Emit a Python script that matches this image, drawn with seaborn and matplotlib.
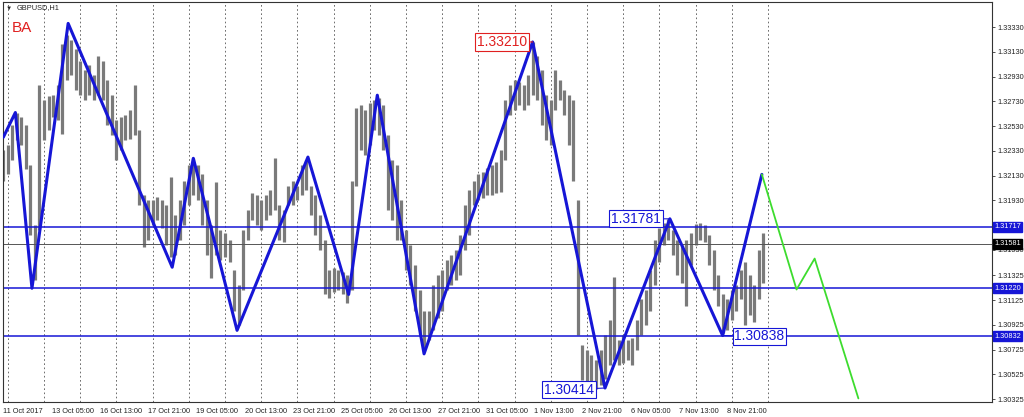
import matplotlib
matplotlib.use("Agg")
import matplotlib.pyplot as plt
import matplotlib.transforms as mtransforms
import pandas as pd
import seaborn as sns

# GBPUSD H1 bars, read every 3rd hour (bar index = k * 3)
bar_step = 3
highs = [1.3234, 1.3238, 1.3254, 1.3264, 1.3260, 1.3254, 1.3222, 1.3173, 1.3286, 1.3274,
         1.3277, 1.3278, 1.3286, 1.3319, 1.3327, 1.3323, 1.3315, 1.3306, 1.3298, 1.3302,
         1.3294, 1.3310, 1.3306, 1.3290, 1.3278, 1.3258, 1.3260, 1.3262, 1.3266, 1.3286,
         1.3250, 1.3197, 1.3193, 1.3193, 1.3196, 1.3193, 1.3189, 1.3212, 1.3181, 1.3193,
         1.3209, 1.3222, 1.3227, 1.3222, 1.3214, 1.3193, 1.3173, 1.3208, 1.3169, 1.3167,
         1.3161, 1.3137, 1.3125, 1.3169, 1.3185, 1.3199, 1.3197, 1.3193, 1.3197, 1.3201,
         1.3227, 1.3189, 1.3185, 1.3205, 1.3209, 1.3205, 1.3222, 1.3226, 1.3205, 1.3197,
         1.3181, 1.3161, 1.3137, 1.3138, 1.3137, 1.3135, 1.3133, 1.3209, 1.3268, 1.3270,
         1.3266, 1.3272, 1.3274, 1.3276, 1.3270, 1.3246, 1.3226, 1.3222, 1.3193, 1.3169,
         1.3157, 1.3141, 1.3121, 1.3104, 1.3104, 1.3125, 1.3133, 1.3137, 1.3145, 1.3149,
         1.3153, 1.3165, 1.3189, 1.3201, 1.3209, 1.3214, 1.3216, 1.3219, 1.3222, 1.3224,
         1.3234, 1.3274, 1.3286, 1.3290, 1.3289, 1.3286, 1.3294, 1.3321, 1.3310, 1.3298,
         1.3278, 1.3274, 1.3298, 1.3290, 1.3282, 1.3278, 1.3274, 1.3193, 1.3076, 1.3072,
         1.3068, 1.3064, 1.3072, 1.3084, 1.3096, 1.3131, 1.3080, 1.3084, 1.3080, 1.3082,
         1.3096, 1.3113, 1.3121, 1.3137, 1.3161, 1.3171, 1.3175, 1.3178, 1.3169, 1.3161,
         1.3157, 1.3161, 1.3167, 1.3174, 1.3175, 1.3173, 1.3165, 1.3153, 1.3133, 1.3117,
         1.3113, 1.3121, 1.3125, 1.3137, 1.3143, 1.3133, 1.3125, 1.3153, 1.3167]
lows = [1.3209, 1.3214, 1.3226, 1.3242, 1.3238, 1.3218, 1.3165, 1.3129, 1.3169, 1.3242,
        1.3250, 1.3260, 1.3258, 1.3247, 1.3290, 1.3294, 1.3282, 1.3278, 1.3274, 1.3278,
        1.3274, 1.3278, 1.3274, 1.3254, 1.3246, 1.3226, 1.3234, 1.3242, 1.3243, 1.3246,
        1.3189, 1.3155, 1.3161, 1.3173, 1.3177, 1.3171, 1.3157, 1.3147, 1.3149, 1.3161,
        1.3173, 1.3189, 1.3197, 1.3193, 1.3173, 1.3149, 1.3130, 1.3149, 1.3145, 1.3147,
        1.3143, 1.3104, 1.3092, 1.3121, 1.3161, 1.3177, 1.3173, 1.3169, 1.3177, 1.3181,
        1.3185, 1.3161, 1.3159, 1.3189, 1.3189, 1.3193, 1.3197, 1.3201, 1.3181, 1.3165,
        1.3153, 1.3117, 1.3114, 1.3119, 1.3121, 1.3117, 1.3110, 1.3121, 1.3205, 1.3234,
        1.3230, 1.3238, 1.3250, 1.3246, 1.3234, 1.3185, 1.3177, 1.3161, 1.3161, 1.3137,
        1.3125, 1.3104, 1.3084, 1.3072, 1.3080, 1.3088, 1.3098, 1.3104, 1.3121, 1.3125,
        1.3129, 1.3133, 1.3153, 1.3165, 1.3189, 1.3193, 1.3195, 1.3197, 1.3197, 1.3199,
        1.3200, 1.3226, 1.3262, 1.3266, 1.3270, 1.3266, 1.3270, 1.3278, 1.3274, 1.3254,
        1.3242, 1.3238, 1.3266, 1.3274, 1.3262, 1.3238, 1.3209, 1.3084, 1.3048, 1.3044,
        1.3046, 1.3041, 1.3044, 1.3049, 1.3060, 1.3064, 1.3060, 1.3062, 1.3064, 1.3060,
        1.3072, 1.3084, 1.3092, 1.3104, 1.3125, 1.3143, 1.3157, 1.3161, 1.3149, 1.3133,
        1.3126, 1.3108, 1.3141, 1.3157, 1.3161, 1.3159, 1.3141, 1.3121, 1.3108, 1.3086,
        1.3088, 1.3096, 1.3104, 1.3113, 1.3092, 1.3100, 1.3095, 1.3113, 1.3126]

# zigzag indicator vertices (bar index, price)
zz_bars = [0, 8, 19, 43, 112, 126, 155, 202, 229, 248, 279, 351, 399, 442, 477, 503]
zz_prices = [1.3244, 1.3264, 1.3122, 1.3336, 1.3139, 1.3227, 1.3088, 1.3228, 1.3117,
             1.3278, 1.3069, 1.33210, 1.30414, 1.31781, 1.30838, 1.3214]

# green forecast path
proj_bars = [503, 526, 538, 567]
proj_prices = [1.3214, 1.3121, 1.3146, 1.3033]

levels = [1.31717, 1.31220, 1.30832]
bid = 1.31581

y_ticks = [1.33330, 1.33130, 1.32930, 1.32730, 1.32530, 1.32330, 1.32130, 1.31930,
           1.31530, 1.31325, 1.31125, 1.30925, 1.30725, 1.30525, 1.30325]
x_labels = ["11 Oct 2017", "13 Oct 05:00", "16 Oct 13:00", "17 Oct 21:00", "19 Oct 05:00",
            "20 Oct 13:00", "23 Oct 21:00", "25 Oct 05:00", "26 Oct 13:00", "27 Oct 21:00",
            "31 Oct 05:00", "1 Nov 13:00", "2 Nov 21:00", "6 Nov 05:00", "7 Nov 13:00",
            "8 Nov 21:00"]
label_every = 32
day_bars = 24
first_day = 3

bars = pd.DataFrame({"bar": [k * bar_step for k in range(len(highs))], "high": highs, "low": lows})
zz = pd.DataFrame({"bar": zz_bars, "price": zz_prices})
proj = pd.DataFrame({"bar": proj_bars, "price": proj_prices})

sns.set_style("white")
plt.rcParams["font.family"] = ["Liberation Sans", "DejaVu Sans"]

fig = plt.figure(figsize=(10.24, 4.17), dpi=100)
ax = fig.add_axes([3 / 1024, 15 / 417, 989 / 1024, 400 / 417])

blue = "#1616d6"
small = 5.3

# daily grid
for d in range(22):
    ax.axvline(first_day + d * day_bars, color="#555555", lw=0.6, ls=(0, (2, 3)), zorder=0)

ax.vlines(bars["bar"], bars["low"], bars["high"], colors="#7a7a7a", lw=2.3, zorder=1)

for lv in levels:
    ax.axhline(lv, color=blue, lw=1.1, zorder=2)
ax.axhline(bid, color="#555555", lw=0.7, zorder=2)

sns.lineplot(data=zz, x="bar", y="price", color=blue, lw=2.2, sort=False,
             estimator=None, ax=ax, zorder=3)
sns.lineplot(data=proj, x="bar", y="price", color="#3ddc2e", lw=1.3, sort=False,
             estimator=None, ax=ax, zorder=3)

ax.set_xlim(-0.2, 655.6)
ax.set_ylim(1.30301, 1.33533)
ax.set_xlabel("")
ax.set_ylabel("")

ax.set_xticks([i * label_every for i in range(len(x_labels))])
ax.set_xticklabels(x_labels, ha="left", fontsize=small)
ax.yaxis.tick_right()
ax.set_yticks(y_ticks)
ax.set_yticklabels([f"{v:.5f}" for v in y_ticks], fontsize=small)
ax.tick_params(axis="both", direction="out", length=2.5, width=0.6, color="#333333",
               labelcolor="#222222", pad=1.5)
for s in ax.spines.values():
    s.set_color("#333333")
    s.set_linewidth(0.8)

# price labels on the right axis
tr = mtransforms.blended_transform_factory(ax.transAxes, ax.transData)
for lv in levels:
    ax.text(1.002, lv, f"{lv:.5f}", transform=tr, fontsize=small, color="white", va="center",
            ha="left", bbox=dict(boxstyle="square,pad=0.2", fc=blue, ec=blue), zorder=5)
ax.text(1.002, bid, f"{bid:.5f}", transform=tr, fontsize=small, color="white", va="center",
        ha="left", bbox=dict(boxstyle="square,pad=0.2", fc="black", ec="black"), zorder=5)

# swing labels
def swing(i, dx, dy, color, ha):
    ax.annotate(f"{zz_prices[i]:.5f}", xy=(zz_bars[i], zz_prices[i]), xytext=(dx, dy),
                textcoords="offset points", ha=ha, va="center", color=color, fontsize=10,
                bbox=dict(boxstyle="square,pad=0.12", fc="white", ec=color, lw=0.8),
                arrowprops=dict(arrowstyle="-", color=color, lw=0.8, shrinkA=0, shrinkB=0),
                zorder=6)

swing(11, -4, 0, "#e02020", "right")
swing(13, -6.5, 0, blue, "right")
swing(14, 8.5, -0.5, blue, "left")
swing(12, -8, -1.2, blue, "right")

ax.text(0.003, 0.985, "\u25bc", transform=ax.transAxes, fontsize=4.5, color="#222222",
        va="center", ha="left")
ax.text(0.014, 0.985, "GBPUSD,H1", transform=ax.transAxes, fontsize=small, color="#222222",
        va="center", ha="left")
ax.text(0.009, 0.935, "BA", transform=ax.transAxes, fontsize=11, color="#e02020",
        va="center", ha="left")

fig.savefig("out.png", dpi=100)
